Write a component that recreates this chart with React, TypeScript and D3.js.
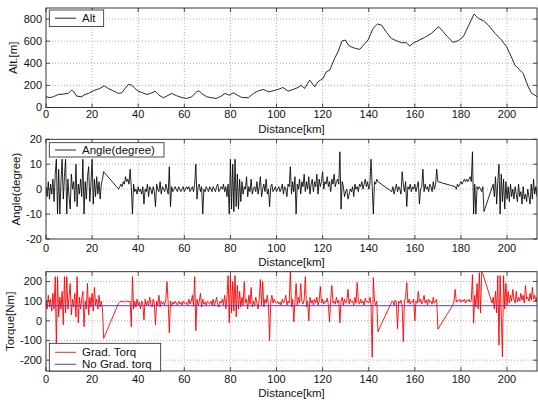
import React from 'react';
import * as d3 from 'd3';

const W = 538;
const H = 400;
const FONT = "'Liberation Sans', Arial, Helvetica, sans-serif";

// ---------- data ----------
const KM_MAX = 213;
const xTicks = [0, 20, 40, 60, 80, 100, 120, 140, 160, 180, 200];
const altTicks = [0, 200, 400, 600, 800];
const angleTicks = [-20, -10, 0, 10, 20];
const torqueTicks = [-200, -100, 0, 100, 200];

const altKm = [0, 1.7, 3.2, 5.3, 7.5, 9.7, 11.1, 12.1, 13.3, 15.5, 16.9, 18.4, 20.5, 23.4, 25.2, 27, 29.2, 31.4, 32.9, 34.3, 35.7, 37.2, 38.6, 40, 41.9, 43.7, 45.4, 47.3, 49, 50.9, 52.6, 54.5, 56.7, 58.9, 61, 63.2, 65.4, 66.4, 67.5, 69.7, 71.9, 73.8, 75.5, 77.7, 79.5, 81.3, 83, 84.9, 87.8, 90, 92.1, 94.3, 96.5, 98.5, 100.6, 102.8, 105, 107.2, 109.3, 110.8, 112.2, 114.4, 116.6, 118, 120.2, 121.6, 123.1, 125.2, 126.7, 128.4, 129.9, 131.1, 132.8, 134.2, 136.1, 138.4, 139.7, 141.9, 143.8, 145.5, 147.7, 149.8, 152, 154.2, 156.3, 157.8, 159.2, 161.4, 164.3, 167.2, 170.3, 172.3, 174.4, 176.6, 178.8, 181, 183.1, 185.7, 187.5, 189.7, 191.9, 194.8, 197.6, 199.8, 201.2, 203.4, 205.6, 207, 209.2, 210.7, 212.1, 213];
const altM = [97, 90, 97, 118, 121, 127, 157, 142, 103, 97, 118, 127, 151, 172, 196, 172, 151, 127, 133, 172, 208, 202, 172, 148, 133, 118, 127, 148, 112, 88, 106, 127, 106, 91, 82, 97, 142, 151, 127, 97, 88, 82, 97, 127, 112, 133, 112, 91, 88, 127, 151, 163, 142, 151, 163, 181, 148, 163, 181, 202, 172, 248, 187, 233, 263, 323, 338, 444, 505, 601, 610, 565, 544, 535, 526, 580, 610, 716, 755, 746, 680, 625, 604, 586, 586, 556, 580, 604, 634, 671, 731, 686, 634, 589, 604, 640, 731, 846, 807, 785, 746, 671, 610, 550, 489, 384, 338, 308, 187, 127, 112, 97];

// noisy series are sampled every SAMPLE_KM inside recorded segments
const SAMPLE_KM = 0.5;

const angleSegStartKm = [0, 31.5, 150, 177.5, 194];
const angleSeg1 = [1, -3, 3, -4, 2, -2, 4, -5, 6, 12, -10, 8, -10, 3, 12, -4, 5, 12, -10, 4, -3, -8, 6, 0, 3, -5, 10, -7, 2, -2, 4, -3, 12, -10, 3, -4, 5, 9, -5, 2, 12, -6, 4, -3, 5, -2, 3, -4, 2, 4, 7];
const angleSeg2 = [
  0, 1, 2, 1, 3, 2, 5, 3, 4, 2,
  8, 1, -10, 2, -1, 0, -2, 1, -1, 0,
  -2, 1, -6, 0, -1, 2, -3, 1, 0, -2,
  1, -1, -7, 2, 0, -1, 3, -2, 1, 0,
  -1, 2, 0, -2, 9, -7, 1, -1, 0, 1,
  0, -1, 1, 0, -1, 0, 1, -1, 0, 1,
  0, 1, -1, 0, 1, -1, 2, 10, -4, 1,
  2, -1, 1, -10, 0, -1, 1, 0, -1, 1,
  0, -1, 1, 0, -1, 1, 2, -1, 0, 1,
  0, 2, -1, 1, -3, 2, -10, 12, -8, 10,
  -9, 12, -7, 6, -8, 4, -5, 3, -2, 1,
  0, 5, -3, 1, -1, 4, -2, 0, 1, -1,
  3, -2, 1, 5, -3, 0, 2, -1, 4, -2,
  0, -7, 1, 2, -1, 0, 1, -1, 0, 1,
  -1, 0, 2, -2, 1, 0, -3, 2, 1, 9,
  -2, 3, -1, 5, -10, 2, 0, 4, -2, 3,
  1, 6, -1, 3, 0, 5, -2, 2, 4, -1,
  3, 1, 6, -2, 4, 1, 3, 7, 0, 3,
  2, 5, 1, 3, -1, 4, 2, 6, 1, 3,
  4, 2, 15, -8, 3, 1, -3, -1, 0, -4,
  -2, 0, -1, 1, -3, 2, 0, 1, -1, 2,
  1, 3, 0, 2, 4, 1, 3, 0, 2, 12,
  1, -10, 3, 2, 4, 3,
];
const angleSeg3 = [-1, 1, -2, 0, 2, -1, 1, 0, -2, 7, 2, -1, 3, -7, 1, 0, 2, -1, 1, 0, 2, -1, 1, 3, -6, 0, 1, 8, -1, 2, 0, 1, -1, 2, 1, -1, 3, 0, 2, 8, 3];
const angleSeg4 = [1, 0, 2, 1, 2, 3, 2, 3, 4, 3, 4, 3, 4, 5, 3, 15, -10, 2, -10, 1, 0, 1, 0, -1, 1, -9];
const angleSeg5 = [2, -3, 5, -6, 3, 10, -10, 6, -5, 4, -8, 3, -4, 1, -5, 2, -3, 0, -4, 1, -2, -5, 2, -3, -1, -6, 1, -4, -2, -5, 0, -3, -6, 2, -4, 4, -2, 1, -3];

const torqueSegStartKm = [0, 31.5, 150, 176.5, 193.5];
const torqueSeg1 = [100, 60, 130, 70, 110, 50, 140, 60, 225, -130, 225, 20, 120, 60, 150, -20, 225, 40, 225, 60, 120, 190, 30, 110, 70, 140, 20, 225, -10, 120, 60, 110, 150, -30, 100, 60, 190, 30, 120, 70, 140, 50, 170, 80, 110, 60, 130, 70, 100, 60, -89];
const torqueSeg2 = [
  90, 95, 100, 98, 100, 95, 100, 97, 100, 96,
  100, -30, 225, 60, 100, 70, 110, 80, 95, 60,
  100, 85, 5, 110, 80, 100, 75, 120, 85, 70,
  110, 90, -20, 100, 80, 130, 70, 100, 85, 95,
  80, 110, 200, 90, -62, 100, 75, 95, 85, 100,
  90, 80, 100, 85, 95, 80, 100, 90, 85, 95,
  80, 110, 85, 100, 130, 75, 225, -50, 110, 80,
  100, 140, 70, 110, 85, 95, 80, 100, 90, 85,
  100, 80, 110, 75, 95, 120, 85, 70, 100, 90,
  110, 80, 130, 60, 120, 230, -10, 230, 40, 200,
  50, 230, 20, 180, 60, 150, 70, 120, 80, 200,
  90, 110, 60, 130, 85, 170, 70, 100, 80, 120,
  90, 60, 110, 210, 80, 200, 70, 110, 90, 130,
  80, -100, 100, 130, 90, 110, 95, 90, 100, 85,
  95, 80, 110, 90, 100, 130, 80, 100, 90, 250,
  70, 110, -5, 100, 190, 80, 120, 90, 190, 100,
  85, 110, 225, 70, 100, 0, 120, 90, 105, 80,
  110, 90, 120, 80, 100, 175, 90, 110, 85, 100,
  95, 115, 80, -5, 110, 180, 90, 100, 85, 120,
  90, 105, -10, 100, 120, 80, 110, 90, 100, 160,
  85, 110, 95, 100, 80, 120, 90, 195, 100, 85,
  110, 90, 100, 80, 115, 95, 100, 90, 120, 85,
  -185, 220, 100, 80, 100, -55,
];
const torqueSeg3 = [98, 100, 80, 105, 95, -40, 100, 90, 105, 80, -106, 100, 120, 195, 90, 110, 85, 100, 95, 110, 0, 100, 90, 150, 95, 110, 85, 100, 130, 90, 105, 80, 110, 95, 100, 85, 120, 90, 100, 110, -42];
const torqueSeg4 = [80, 100, 160, 95, 105, 100, 110, 95, 105, 100, 110, 90, 105, 100, 110, 95, 105, 235, -12, 130, 70, 190, 60, 245, 40, 250, 240];
const torqueSeg5 = [90, 120, 60, 150, 40, 230, -123, 230, 20, -183, 230, 60, 190, 80, 150, 90, 130, 100, 160, 110, 90, 150, 95, 120, 100, 140, 105, 130, 90, 180, 110, 120, 100, 140, 105, 170, 110, 130, 100, 120];

const noGradKm = [0, 213];
const noGradTorque = [77, 77];

// ---------- helpers ----------
type Pt = [number, number];

function buildSeries(starts: number[], segs: number[][]): Pt[] {
  const out: Pt[] = [];
  segs.forEach((seg, si) => {
    seg.forEach((v, i) => out.push([starts[si] + i * SAMPLE_KM, v]));
  });
  return out;
}

const altSeries: Pt[] = altKm.map((k, i) => [k, altM[i]]);
const angleSeries = buildSeries(angleSegStartKm, [angleSeg1, angleSeg2, angleSeg3, angleSeg4, angleSeg5]);
const torqueSeries = buildSeries(torqueSegStartKm, [torqueSeg1, torqueSeg2, torqueSeg3, torqueSeg4, torqueSeg5]);
const noGradSeries: Pt[] = noGradKm.map((k, i) => [k, noGradTorque[i]]);

const LEFT = 46;
const RIGHT = 537;
const x = d3.scaleLinear().domain([0, KM_MAX]).range([LEFT, RIGHT]);

const BLUE = '#4646cc';
const RED = '#ff0000';

interface PanelCfg {
  id: string;
  top: number;
  bottom: number;
  yDomain: [number, number];
  yTicks: number[];
  ylabel: string;
  ylabelX: number;
  tickDy: number;
  xlabelDy: number;
}

const panels: PanelCfg[] = [
  { id: 'alt', top: 8, bottom: 107.5, yDomain: [0, 900], yTicks: altTicks, ylabel: 'Alt.[m]', ylabelX: 17, tickDy: 10.5, xlabelDy: 25.5 },
  { id: 'ang', top: 139.3, bottom: 239, yDomain: [-20, 20], yTicks: angleTicks, ylabel: 'Angle(degree)', ylabelX: 19.5, tickDy: 12.5, xlabelDy: 27 },
  { id: 'tor', top: 271.7, bottom: 371, yDomain: [-255, 250], yTicks: torqueTicks, ylabel: 'Torque[Nm]', ylabelX: 14, tickDy: 12, xlabelDy: 25.5 },
];

function Axes({ cfg, children }: { cfg: PanelCfg; children: (y: d3.ScaleLinear<number, number>) => React.ReactNode }) {
  const y = d3.scaleLinear().domain(cfg.yDomain).range([cfg.bottom, cfg.top]);
  const tl = 4;
  return (
    <g>
      <defs>
        <clipPath id={`clip-${cfg.id}`}>
          <rect x={LEFT} y={cfg.top} width={RIGHT - LEFT} height={cfg.bottom - cfg.top} />
        </clipPath>
      </defs>
      <rect x={LEFT} y={cfg.top} width={RIGHT - LEFT} height={cfg.bottom - cfg.top} fill="#fff" />
      {xTicks.filter((t) => t > 0 && t < KM_MAX).map((t) => (
        <line key={`gx${t}`} x1={x(t)} x2={x(t)} y1={cfg.top} y2={cfg.bottom} stroke="#9a9a9a" strokeWidth={0.8} strokeDasharray="1,2" />
      ))}
      {cfg.yTicks.filter((t) => y(t) > cfg.top + 0.5 && y(t) < cfg.bottom - 0.5).map((t) => (
        <line key={`gy${t}`} x1={LEFT} x2={RIGHT} y1={y(t)} y2={y(t)} stroke="#9a9a9a" strokeWidth={0.8} strokeDasharray="1,2" />
      ))}
      <g clipPath={`url(#clip-${cfg.id})`}>{children(y)}</g>
      <rect x={LEFT} y={cfg.top} width={RIGHT - LEFT} height={cfg.bottom - cfg.top} fill="none" stroke="#222" strokeWidth={0.9} />
      {xTicks.map((t) => (
        <g key={`tx${t}`}>
          <line x1={x(t)} x2={x(t)} y1={cfg.bottom} y2={cfg.bottom - tl} stroke="#222" strokeWidth={0.8} />
          <line x1={x(t)} x2={x(t)} y1={cfg.top} y2={cfg.top + tl} stroke="#222" strokeWidth={0.8} />
          <text x={x(t)} y={cfg.bottom + cfg.tickDy} textAnchor="middle" fontSize={11} fontFamily={FONT} fill="#111">{t}</text>
        </g>
      ))}
      {cfg.yTicks.map((t) => (
        <g key={`ty${t}`}>
          <line x1={LEFT} x2={LEFT + tl} y1={y(t)} y2={y(t)} stroke="#222" strokeWidth={0.8} />
          <line x1={RIGHT} x2={RIGHT - tl} y1={y(t)} y2={y(t)} stroke="#222" strokeWidth={0.8} />
          <text x={42} y={y(t)} dy="0.36em" textAnchor="end" fontSize={11} fontFamily={FONT} fill="#111">{t}</text>
        </g>
      ))}
      <text x={(LEFT + RIGHT) / 2} y={cfg.bottom + cfg.xlabelDy} textAnchor="middle" fontSize={11.5} fontFamily={FONT} fill="#111">Distance[km]</text>
      <text transform={`translate(${cfg.ylabelX},${(cfg.top + cfg.bottom) / 2}) rotate(-90)`} textAnchor="middle" fontSize={11.5} fontFamily={FONT} fill="#111">{cfg.ylabel}</text>
    </g>
  );
}

function lineOf(y: d3.ScaleLinear<number, number>, data: Pt[]): string {
  return d3.line<Pt>().x((d) => x(d[0])).y((d) => y(d[1]))(data) || '';
}

export default function App() {
  const [pAlt, pAng, pTor] = panels;
  return (
    <svg width={W} height={H} viewBox={`0 0 ${W} ${H}`} style={{ position: 'absolute', left: 0, top: 0, background: '#fff' }}>
      <rect x={0} y={0} width={W} height={H} fill="#fff" />
      <Axes cfg={pAlt}>
        {(y) => <path d={lineOf(y, altSeries)} fill="none" stroke="#111" strokeWidth={0.9} />}
      </Axes>
      <Axes cfg={pAng}>
        {(y) => <path d={lineOf(y, angleSeries)} fill="none" stroke="#000" strokeWidth={0.85} />}
      </Axes>
      <Axes cfg={pTor}>
        {(y) => (
          <g>
            <path d={lineOf(y, torqueSeries)} fill="none" stroke={RED} strokeWidth={0.9} />
            <path d={lineOf(y, noGradSeries)} fill="none" stroke={BLUE} strokeWidth={1} />
          </g>
        )}
      </Axes>

      <g fontFamily={FONT} fontSize={11.5} fill="#111">
        <rect x={49.3} y={10} width={54.4} height={16.5} fill="#fff" stroke="#222" strokeWidth={0.8} />
        <line x1={55} x2={76} y1={18.2} y2={18.2} stroke="#111" strokeWidth={0.9} />
        <text x={82} y={22.2}>Alt</text>

        <rect x={49.3} y={142.7} width={114.7} height={14.3} fill="#fff" stroke="#222" strokeWidth={0.8} />
        <line x1={55} x2={76} y1={150} y2={150} stroke="#111" strokeWidth={0.9} />
        <text x={82} y={154}>Angle(degree)</text>

        <rect x={49.3} y={343.3} width={111.4} height={27.7} fill="#fff" stroke="#222" strokeWidth={0.8} />
        <line x1={55} x2={76} y1={352.3} y2={352.3} stroke="#c83838" strokeWidth={1} />
        <text x={82} y={356.3}>Grad. Torq</text>
        <line x1={55} x2={76} y1={364.3} y2={364.3} stroke={BLUE} strokeWidth={1} />
        <text x={82} y={368.3}>No Grad. torq</text>
      </g>
    </svg>
  );
}
